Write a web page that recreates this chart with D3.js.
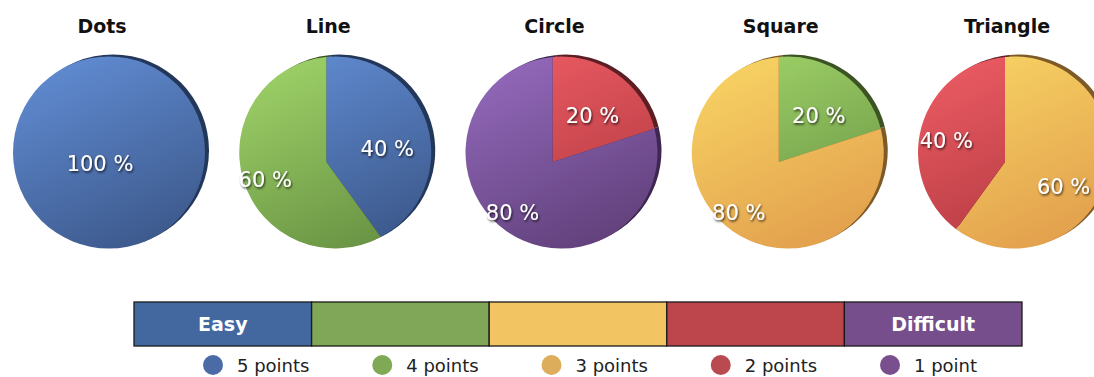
<!DOCTYPE html>
<html><head><meta charset="utf-8">
<script src="https://cdn.jsdelivr.net/npm/d3@7"></script>
<style>html,body{margin:0;padding:0;background:#fff;}svg{display:block;}</style>
</head><body>
<svg id="c" width="1094" height="377"></svg>
<script>
// ---- data ----
const chartNames = ["Dots", "Line", "Circle", "Square", "Triangle"];
const levelLabels = ["Easy", "", "", "", "Difficult"];
const pointLabels = ["5 points", "4 points", "3 points", "2 points", "1 point"];
// shares (%) per level: [5 pts, 4 pts, 3 pts, 2 pts, 1 pt]
const dotsShares = [100, 0, 0, 0, 0];
const lineShares = [40, 60, 0, 0, 0];
const circleShares = [0, 0, 0, 20, 80];
const squareShares = [0, 20, 80, 0, 0];
const triangleShares = [0, 0, 60, 40, 0];
const allShares = [dotsShares, lineShares, circleShares, squareShares, triangleShares];

// ---- styles ----
const lightCols = ["#608bd1", "#9dd067", "#f7d263", "#ea5a62", "#9268ba"];
const darkCols = ["#3c588b", "#689243", "#e29f4d", "#b0383f", "#60407a"];
const rimCols = ["#22375a", "#3c5323", "#7d5a28", "#5c1e22", "#3e2650"];
const barCols = ["#43679f", "#80a757", "#f2c462", "#bc464b", "#764e8b"];
const dotCols = ["#4a6ba6", "#7fa955", "#dcae5b", "#b94a4f", "#7a4f8e"];

const svg = d3.select("#c");
const defs = svg.append("defs");
const f = defs.append("filter").attr("id", "ts").attr("x", "-20%").attr("y", "-30%").attr("width", "140%").attr("height", "160%");
f.append("feDropShadow").attr("dx", 1).attr("dy", 1.5).attr("stdDeviation", 1.2)
  .attr("flood-color", "#000").attr("flood-opacity", 0.75);

const xPie = d3.scalePoint().domain(chartNames).range([100, 1005]);
const vy = 162;            // slice vertex y
const R = 96;              // outline radius
const off = [9, -9.5];     // outline centre relative to vertex (tilt)
const labelR = 63;

const pie = d3.pie().sort(null).value(d => d.v);

function rayPoint(V, C, a) {
  const d = [Math.sin(a), -Math.cos(a)];
  const w = [V[0] - C[0], V[1] - C[1]];
  const wd = w[0] * d[0] + w[1] * d[1];
  const t = -wd + Math.sqrt(wd * wd - (w[0] * w[0] + w[1] * w[1]) + R * R);
  return [V[0] + t * d[0], V[1] + t * d[1]];
}
function slicePath(V, C, a0, a1) {
  const p = d3.path();
  if (a1 - a0 >= 2 * Math.PI - 1e-6) {
    p.moveTo(C[0] + R, C[1]);
    p.arc(C[0], C[1], R, 0, 2 * Math.PI);
    p.closePath();
    return p.toString();
  }
  const P0 = rayPoint(V, C, a0), P1 = rayPoint(V, C, a1);
  const f0 = Math.atan2(P0[1] - C[1], P0[0] - C[0]);
  const f1 = Math.atan2(P1[1] - C[1], P1[0] - C[0]);
  p.moveTo(V[0], V[1]);
  p.lineTo(P0[0], P0[1]);
  p.arc(C[0], C[1], R, f0, f1, false);
  p.closePath();
  return p.toString();
}
const isFull = d => d.endAngle - d.startAngle >= 2 * Math.PI - 1e-6;

chartNames.forEach((name, i) => {
  const vx = xPie(name);
  const V = [vx, vy];
  const C = [vx + off[0], vy + off[1]];
  const data = allShares[i].map((v, k) => ({ v, k })).filter(d => d.v > 0);
  const arcs = pie(data);
  const g = svg.append("g");

  // title
  g.append("text").attr("x", vx + 2).attr("y", 33).attr("text-anchor", "middle")
    .attr("font-family", "DejaVu Sans").attr("font-weight", "bold").attr("font-size", 19)
    .attr("fill", "#111").text(name);

  // rim (extruded edge)
  g.append("g").attr("transform", "translate(4,-2)").selectAll("path").data(arcs).join("path")
    .attr("d", d => slicePath(V, C, d.startAngle, d.endAngle))
    .attr("fill", d => rimCols[d.data.k]);

  // gradients
  arcs.forEach((d, j) => {
    const lg = defs.append("linearGradient").attr("id", `g${i}_${j}`)
      .attr("gradientUnits", "userSpaceOnUse")
      .attr("x1", C[0] - R * 0.45).attr("y1", C[1] - R)
      .attr("x2", C[0] + R * 0.45).attr("y2", C[1] + R);
    lg.append("stop").attr("offset", "0%").attr("stop-color", lightCols[d.data.k]);
    lg.append("stop").attr("offset", "100%").attr("stop-color", darkCols[d.data.k]);
  });

  g.append("g").selectAll("path").data(arcs).join("path")
    .attr("d", d => slicePath(V, C, d.startAngle, d.endAngle))
    .attr("fill", (d, j) => `url(#g${i}_${j})`);

  // labels
  g.append("g").selectAll("text").data(arcs).join("text")
    .attr("x", d => isFull(d) ? V[0] : V[0] + labelR * Math.sin((d.startAngle + d.endAngle) / 2 + 0.06))
    .attr("y", d => (isFull(d) ? V[1] : V[1] - labelR * Math.cos((d.startAngle + d.endAngle) / 2 + 0.06)) + 2)
    .attr("dy", "0.35em").attr("text-anchor", "middle")
    .attr("font-family", "DejaVu Sans").attr("font-size", 21).attr("fill", "#fff")
    .attr("filter", "url(#ts)")
    .text(d => d.data.v + " %");
});

// ---- difficulty bar ----
const xBar = d3.scaleBand().domain(d3.range(levelLabels.length)).range([134, 1022]).paddingInner(0);
const bar = svg.append("g");
bar.selectAll("rect").data(levelLabels).join("rect")
  .attr("x", (d, i) => xBar(i)).attr("y", 302)
  .attr("width", xBar.bandwidth()).attr("height", 44)
  .attr("fill", (d, i) => barCols[i]).attr("stroke", "#1a1a1a").attr("stroke-width", 1.3);
bar.selectAll("text").data(levelLabels).join("text")
  .attr("x", (d, i) => xBar(i) + xBar.bandwidth() / 2).attr("y", 331)
  .attr("text-anchor", "middle").attr("font-family", "DejaVu Sans").attr("font-weight", "bold")
  .attr("font-size", 19).attr("fill", "#fff").text(d => d);

// ---- legend ----
const xLeg = d3.scalePoint().domain(pointLabels).range([213, 890]);
const leg = svg.append("g").selectAll("g").data(pointLabels).join("g")
  .attr("transform", d => `translate(${xLeg(d)},365)`);
leg.append("circle").attr("r", 10).attr("fill", (d, i) => dotCols[i]);
leg.append("text").attr("x", 24).attr("y", 7).attr("font-family", "DejaVu Sans")
  .attr("font-size", 18).attr("fill", "#222").text(d => d);
</script>
</body></html>
